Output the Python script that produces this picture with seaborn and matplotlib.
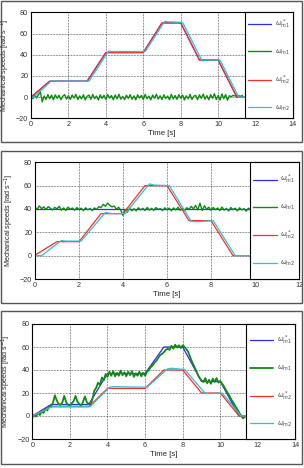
import numpy as np
import pandas as pd
import matplotlib
matplotlib.use("Agg")
import matplotlib.pyplot as plt
from matplotlib.patches import Rectangle
import seaborn as sns

# ---------------- data ----------------
# Panel 1
p1_t_ref = [0, 1, 3, 4, 6, 7, 8, 9, 10, 11, 11.4]
p1_wm1_ref = [0, 15, 15, 42, 42, 70, 70, 35, 35, 0, 0]
p1_wm2_ref = [0, 15, 15, 42, 42, 70, 70, 35, 35, 0, 0]
p1_t_m2 = [0, 0.15, 1.1, 1.3, 3.1, 4.15, 4.35, 6.1, 7.15, 7.35, 8.1, 9.15, 9.35, 10.1, 11.1, 11.4]
p1_wm2 = [0, 0, 15.5, 15, 15, 43.5, 43, 43, 71.5, 71, 70.5, 34, 35, 35, 0, 0]
p1_dt = 0.1
p1_wm1 = [0.3, -1.5, 1.8, -0.8, 2.2, 5.0, -4.5, 1.0, -2.3, 2.4,
          -1.6, 1.9, -2.5, 2.1, -1.2, 1.7, -2.4, 0.9, 2.3, -1.9,
          1.4, -2.2, 2.0, -1.0, 2.6, -2.3, 1.2, -1.7, 2.2, -2.6,
          0.8, 1.9, -2.1, 2.5, -1.4, 1.0, -2.7, 2.1, -1.2, 1.7,
          -2.3, 2.4, -0.9, 1.5, -2.5, 2.0, -1.6, 2.6, -2.0, 0.7,
          -2.4, 1.8, -1.3, 2.3, -2.1, 1.1, -2.6, 2.2, -0.8, 1.6,
          -2.2, 2.5, -1.5, 0.9, -2.6, 2.0, -1.1, 2.7, -1.9, 1.3,
          -2.3, 2.2, -1.4, 1.0, -2.5, 2.6, -1.7, 1.5, -2.1, 2.3,
          -1.0, 1.9, -2.7, 1.2, -1.6, 2.5, -2.2, 0.8, 1.7, -2.4,
          2.1, -1.2, 2.8, -2.0, 1.4, -2.5, 2.3, -1.1, 3.2, -2.3,
          1.6, -2.8, 3.0, -1.5, 2.4, -3.0, 1.3, 0.3, 1.7, 0.9,
          2.0, 1.3, 0.7, 1.6]

# Panel 2
p2_t_ref = [0, 1, 2, 3, 4, 5, 6, 7, 8, 9, 9.8]
p2_wm2_ref = [0.5, 12, 12, 36, 36, 60, 60, 30, 30, 0, 0]
p2_t_m1_ref = [0, 9.8]
p2_wm1_ref = [40, 40]
p2_t_m2 = [0, 0.3, 1.2, 1.4, 2.1, 3.2, 3.5, 4.1, 5.2, 5.4, 6.1, 7.1, 7.35, 8.1, 9.1, 9.8]
p2_wm2 = [0, 0, 13, 12.5, 12.5, 37, 36, 36, 61.5, 60.5, 60, 29.5, 29, 30, 0, 0]
p2_dt = 0.1
p2_wm1 = [41.5, 39.8, 42.6, 40.2, 41.8, 39.5, 42.0, 40.6, 39.2, 41.4,
          40.1, 42.3, 39.0, 40.9, 38.8, 41.6, 39.7, 40.8, 38.9, 41.2,
          39.5, 40.7, 38.6, 41.0, 39.3, 40.5, 38.7, 40.9, 39.6, 42.0,
          41.2, 44.0, 42.3, 45.0, 43.1, 41.8, 42.6, 39.7, 41.5, 38.9,
          34.5, 39.5, 37.2, 40.8, 38.5, 40.2, 38.4, 41.0, 39.2, 40.5,
          38.7, 41.3, 39.0, 40.6, 38.8, 41.2, 39.5, 40.4, 38.6, 41.0,
          39.3, 40.7, 38.5, 40.9, 39.1, 41.4, 38.8, 40.2, 38.4, 41.1,
          39.6, 42.2, 40.1, 43.0, 39.2, 45.0, 38.6, 42.8, 39.8, 41.5,
          38.9, 41.3, 39.4, 40.8, 38.6, 41.7, 39.0, 40.5, 38.3, 41.2,
          39.5, 40.6, 38.4, 41.0, 39.2, 40.3, 38.1, 40.7, 39.0]

# Panel 3
p3_t_ref = [0, 1, 3, 4, 6, 7, 8, 9, 10, 11, 11.4]
p3_wm1_ref = [0, 10, 10, 37, 37, 60, 60, 30, 30, 0, 0]
p3_wm2_ref = [0, 8, 8, 24, 24, 40, 40, 20, 20, 0, 0]
p3_t_m2 = [0, 1.1, 3.1, 4.1, 4.3, 6.1, 7.2, 7.4, 8.1, 9.2, 9.4, 10.1, 11.1, 11.4]
p3_wm2 = [0, 8.5, 8.5, 25, 25.5, 25, 41, 41.5, 40.5, 19.5, 19.5, 20, 0, 0]
p3_dt = 0.1
p3_wm1 = [-1.5, 1.2, -0.5, 2.5, 0.8, 4.2, 2.6, 6.5, 4.8, 9.0,
          8.0, 11.5, 18.0, 13.5, 10.5, 9.5, 12.0, 17.5, 12.0, 9.5,
          8.5, 11.0, 13.0, 17.5, 12.5, 10.5, 8.5, 12.5, 17.0, 12.0,
          10.5, 9.5, 15.0, 22.0, 24.5, 29.0, 27.0, 33.5, 31.0, 36.5,
          34.0, 38.5, 35.0, 39.0, 34.5, 37.5, 35.0, 39.5, 35.5, 38.0,
          34.5, 38.5, 35.5, 39.0, 34.0, 37.0, 35.0, 38.5, 34.5, 37.5,
          35.0, 38.5, 40.0, 42.5, 44.0, 46.5, 48.0, 50.5, 53.0, 54.0,
          55.5, 57.5, 58.5, 57.5, 61.0, 58.5, 62.0, 59.5, 61.5, 59.0,
          61.5, 60.0, 58.0, 55.5, 51.0, 47.0, 43.5, 40.0, 36.0, 33.0,
          31.0, 29.5, 33.0, 28.5, 31.5, 28.0, 32.5, 29.5, 33.0, 29.0,
          30.5, 28.0, 25.5, 22.5, 20.0, 17.0, 14.0, 11.5, 8.5, 6.0,
          3.0, 0.5, -2.0, -1.0]

labels = [r"$\omega^*_{m1}$", r"$\omega_{m1}$", r"$\omega^*_{m2}$", r"$\omega_{m2}$"]
x_ticks_14 = [0, 2, 4, 6, 8, 10, 12, 14]
x_ticks_12 = [0, 2, 4, 6, 8, 10, 12]
y_ticks = [-20, 0, 20, 40, 60, 80]

# ---------------- style ----------------
sns.set_style("white")
plt.rcParams["font.family"] = ["Liberation Sans", "DejaVu Sans"]
plt.rcParams["mathtext.fontset"] = "dejavusans"

C_BLUE = "#2a2aff"
C_GREEN = "#118a11"
C_RED = "#ff2a2a"
C_CYAN = "#22c8cc"

fig = plt.figure(figsize=(3.04, 4.68), dpi=100)
W, H = 304.0, 468.0


def ax_rect(left, right, top, bottom):
    return [left / W, 1 - bottom / H, (right - left) / W, (bottom - top) / H]


def frame(top, bottom):
    fig.add_artist(Rectangle((1 / W, 1 - bottom / H), 301 / W, (bottom - top) / H,
                             transform=fig.transFigure, fill=False,
                             ec="#555555", lw=1.0))


def series_df(t, y):
    return pd.DataFrame({"t": t, "v": y})


def panel(rect, xticks, leg_x, s_m1ref, s_m1, s_m2ref, s_m2, green_lw):
    ax = fig.add_axes(rect)
    specs = [(s_m1ref, C_BLUE, 0.9), (s_m1, C_GREEN, green_lw),
             (s_m2ref, C_RED, 0.9), (s_m2, C_CYAN, 0.9)]
    for (t, y), col, lw in specs:
        sns.lineplot(data=series_df(t, y), x="t", y="v", ax=ax, color=col,
                     lw=lw, estimator=None, sort=False, legend=False)
    xmax = xticks[-1]
    ax.set_xlim(0, xmax)
    ax.set_ylim(-20, 80)
    ax.set_xticks(xticks)
    ax.set_yticks(y_ticks)
    ax.grid(True, color="#222222", ls=(0, (1, 1.2)), lw=0.5)
    for sp in ax.spines.values():
        sp.set_color("black")
        sp.set_linewidth(0.8)
    ax.tick_params(direction="in", length=2, width=0.5, labelsize=5.2,
                   labelcolor="#333333", pad=2)
    ax.set_xlabel("Time [s]", fontsize=5.6, labelpad=1.5, color="#222222")
    ax.set_ylabel("Mechanical speeds [rad s$^{-1}$]", fontsize=5.2,
                  labelpad=3, color="#222222")
    frac = leg_x / xmax
    lax = ax.inset_axes([frac, 0, 1 - frac, 1])
    lax.set_zorder(10)
    lax.set_facecolor("white")
    lax.set_xticks([])
    lax.set_yticks([])
    for sp in lax.spines.values():
        sp.set_color("black")
        sp.set_linewidth(0.8)
    lax.legend(ax.get_lines()[:4], labels, loc="center", frameon=False,
               fontsize=5, handlelength=3.4, handletextpad=0.5,
               labelspacing=2.4, borderaxespad=0, labelcolor="#444444")
    return ax


frame(1, 142)
panel(ax_rect(31, 293, 12.3, 118.3), x_ticks_14, 11.43,
      (p1_t_ref, p1_wm1_ref),
      (np.arange(len(p1_wm1)) * p1_dt, p1_wm1),
      (p1_t_ref, p1_wm2_ref),
      (p1_t_m2, p1_wm2), 1.0)

frame(151, 303)
panel(ax_rect(35, 299, 162.3, 279), x_ticks_12, 9.77,
      (p2_t_m1_ref, p2_wm1_ref),
      (np.arange(len(p2_wm1)) * p2_dt, p2_wm1),
      (p2_t_ref, p2_wm2_ref),
      (p2_t_m2, p2_wm2), 1.0)

frame(311, 464)
panel(ax_rect(32.3, 295.5, 324, 439), x_ticks_14, 11.37,
      (p3_t_ref, p3_wm1_ref),
      (np.arange(len(p3_wm1)) * p3_dt, p3_wm1),
      (p3_t_ref, p3_wm2_ref),
      (p3_t_m2, p3_wm2), 1.3)

fig.savefig("out.png", dpi=100)
